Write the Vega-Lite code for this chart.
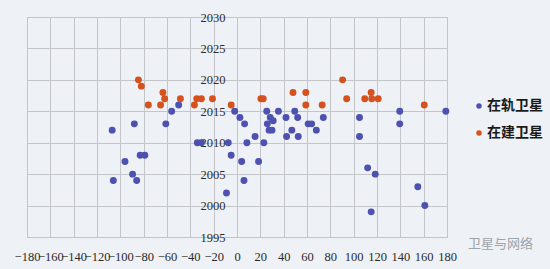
{
  "$schema": "https://vega.github.io/schema/vega-lite/v6.json",
  "width": 420,
  "height": 220,
  "autosize": {"type": "none"},
  "padding": {"left": 27, "top": 17, "right": 103, "bottom": 32},
  "background": "#eef1f5",
  "config": {
    "view": {"stroke": "#c3c5c9", "strokeWidth": 1},
    "font": "Liberation Sans Narrow"
  },
  "title": {
    "text": "卫星与网络",
    "orient": "bottom",
    "anchor": "end",
    "frame": "group",
    "font": "Noto Sans CJK SC",
    "fontSize": 13,
    "fontWeight": "normal",
    "color": "#9ea3a8",
    "dx": 86,
    "dy": -29
  },
  "data": {
    "values": [
      {"lon": -107, "year": 2012, "type": "在轨卫星"},
      {"lon": -88, "year": 2013, "type": "在轨卫星"},
      {"lon": -61, "year": 2013, "type": "在轨卫星"},
      {"lon": -56, "year": 2015, "type": "在轨卫星"},
      {"lon": -50, "year": 2016, "type": "在轨卫星"},
      {"lon": -34, "year": 2010, "type": "在轨卫星"},
      {"lon": -30.5, "year": 2010, "type": "在轨卫星"},
      {"lon": -7.5, "year": 2010, "type": "在轨卫星"},
      {"lon": -5, "year": 2008, "type": "在轨卫星"},
      {"lon": -83, "year": 2008, "type": "在轨卫星"},
      {"lon": -79, "year": 2008, "type": "在轨卫星"},
      {"lon": -96, "year": 2007, "type": "在轨卫星"},
      {"lon": -89.5, "year": 2005, "type": "在轨卫星"},
      {"lon": -86, "year": 2004, "type": "在轨卫星"},
      {"lon": -106, "year": 2004, "type": "在轨卫星"},
      {"lon": -9, "year": 2002, "type": "在轨卫星"},
      {"lon": -2, "year": 2015, "type": "在轨卫星"},
      {"lon": 2.5, "year": 2014, "type": "在轨卫星"},
      {"lon": 6.5, "year": 2013, "type": "在轨卫星"},
      {"lon": 4, "year": 2007, "type": "在轨卫星"},
      {"lon": 6, "year": 2004, "type": "在轨卫星"},
      {"lon": 8.5, "year": 2010, "type": "在轨卫星"},
      {"lon": 15.5, "year": 2011, "type": "在轨卫星"},
      {"lon": 18.5, "year": 2007, "type": "在轨卫星"},
      {"lon": 23, "year": 2010, "type": "在轨卫星"},
      {"lon": 25.5, "year": 2015, "type": "在轨卫星"},
      {"lon": 26, "year": 2013, "type": "在轨卫星"},
      {"lon": 28.5, "year": 2014, "type": "在轨卫星"},
      {"lon": 27.5, "year": 2012, "type": "在轨卫星"},
      {"lon": 30, "year": 2012, "type": "在轨卫星"},
      {"lon": 31, "year": 2013.5, "type": "在轨卫星"},
      {"lon": 35.5, "year": 2015, "type": "在轨卫星"},
      {"lon": 42, "year": 2014, "type": "在轨卫星"},
      {"lon": 47, "year": 2012, "type": "在轨卫星"},
      {"lon": 42.5, "year": 2011, "type": "在轨卫星"},
      {"lon": 49.5, "year": 2015, "type": "在轨卫星"},
      {"lon": 52, "year": 2014, "type": "在轨卫星"},
      {"lon": 52.5, "year": 2011, "type": "在轨卫星"},
      {"lon": 61, "year": 2013, "type": "在轨卫星"},
      {"lon": 64, "year": 2013, "type": "在轨卫星"},
      {"lon": 68, "year": 2012, "type": "在轨卫星"},
      {"lon": 74, "year": 2014, "type": "在轨卫星"},
      {"lon": 105, "year": 2014, "type": "在轨卫星"},
      {"lon": 105, "year": 2011, "type": "在轨卫星"},
      {"lon": 112, "year": 2006, "type": "在轨卫星"},
      {"lon": 118.5, "year": 2005, "type": "在轨卫星"},
      {"lon": 115, "year": 1999, "type": "在轨卫星"},
      {"lon": 139.5, "year": 2015, "type": "在轨卫星"},
      {"lon": 139.5, "year": 2013, "type": "在轨卫星"},
      {"lon": 155, "year": 2003, "type": "在轨卫星"},
      {"lon": 161, "year": 2000, "type": "在轨卫星"},
      {"lon": 179, "year": 2015, "type": "在轨卫星"},
      {"lon": -84.5, "year": 2020, "type": "在建卫星"},
      {"lon": -82, "year": 2019, "type": "在建卫星"},
      {"lon": -76, "year": 2016, "type": "在建卫星"},
      {"lon": -63.5, "year": 2018, "type": "在建卫星"},
      {"lon": -62, "year": 2017, "type": "在建卫星"},
      {"lon": -65.5, "year": 2016, "type": "在建卫星"},
      {"lon": -48.5, "year": 2017, "type": "在建卫星"},
      {"lon": -36.5, "year": 2016, "type": "在建卫星"},
      {"lon": -34.5, "year": 2017, "type": "在建卫星"},
      {"lon": -30.5, "year": 2017, "type": "在建卫星"},
      {"lon": -21, "year": 2017, "type": "在建卫星"},
      {"lon": -5, "year": 2016, "type": "在建卫星"},
      {"lon": 20.5, "year": 2017, "type": "在建卫星"},
      {"lon": 22.5, "year": 2017, "type": "在建卫星"},
      {"lon": 48, "year": 2018, "type": "在建卫星"},
      {"lon": 59, "year": 2018, "type": "在建卫星"},
      {"lon": 59, "year": 2016, "type": "在建卫星"},
      {"lon": 73, "year": 2016, "type": "在建卫星"},
      {"lon": 90.5, "year": 2020, "type": "在建卫星"},
      {"lon": 94, "year": 2017, "type": "在建卫星"},
      {"lon": 109.5, "year": 2017, "type": "在建卫星"},
      {"lon": 115, "year": 2018, "type": "在建卫星"},
      {"lon": 115.5, "year": 2017, "type": "在建卫星"},
      {"lon": 121, "year": 2017, "type": "在建卫星"},
      {"lon": 160.5, "year": 2016, "type": "在建卫星"}
    ]
  },
  "mark": {"type": "circle", "size": 48, "opacity": 1},
  "encoding": {
    "x": {
      "field": "lon",
      "type": "quantitative",
      "scale": {"domain": [-180, 180], "nice": false, "zero": false},
      "axis": {
        "title": null,
        "values": [-180, -160, -140, -120, -100, -80, -60, -40, -20, 0, 20, 40, 60, 80, 100, 120, 140, 160, 180],
        "format": "d",
        "domain": false,
        "ticks": false,
        "grid": true,
        "gridColor": "#c3c5c9",
        "gridOpacity": 1,
        "labelFont": "Liberation Sans Narrow",
        "labelFontSize": 12.5,
        "labelColor": "#2b2b2b",
        "labelPadding": 13,
        "labelOverlap": false,
        "labelFlush": false
      }
    },
    "y": {
      "field": "year",
      "type": "quantitative",
      "scale": {"domain": [1995, 2030], "nice": false, "zero": false},
      "axis": {
        "title": null,
        "values": [1995, 2000, 2005, 2010, 2015, 2020, 2025, 2030],
        "format": "d",
        "offset": -210,
        "domain": false,
        "ticks": false,
        "grid": true,
        "gridColor": "#c3c5c9",
        "gridOpacity": 1,
        "labelFont": "Liberation Sans Narrow",
        "labelFontSize": 12.5,
        "labelColor": "#2b2b2b",
        "labelPadding": 12,
        "labelOverlap": false,
        "labelFlush": false
      }
    },
    "color": {
      "field": "type",
      "type": "nominal",
      "sort": ["在轨卫星", "在建卫星"],
      "scale": {"domain": ["在轨卫星", "在建卫星"], "range": ["#4d51b0", "#d5511d"]},
      "legend": {
        "title": null,
        "orient": "none",
        "legendX": 445,
        "legendY": 82,
        "padding": 0,
        "symbolType": "circle",
        "symbolSize": 30,
        "symbolOpacity": 1,
        "rowPadding": 13,
        "labelFont": "Noto Sans CJK SC",
        "labelFontWeight": "bold",
        "labelFontSize": 14,
        "labelColor": "#1a1a1a",
        "labelOffset": 1
      }
    }
  }
}
